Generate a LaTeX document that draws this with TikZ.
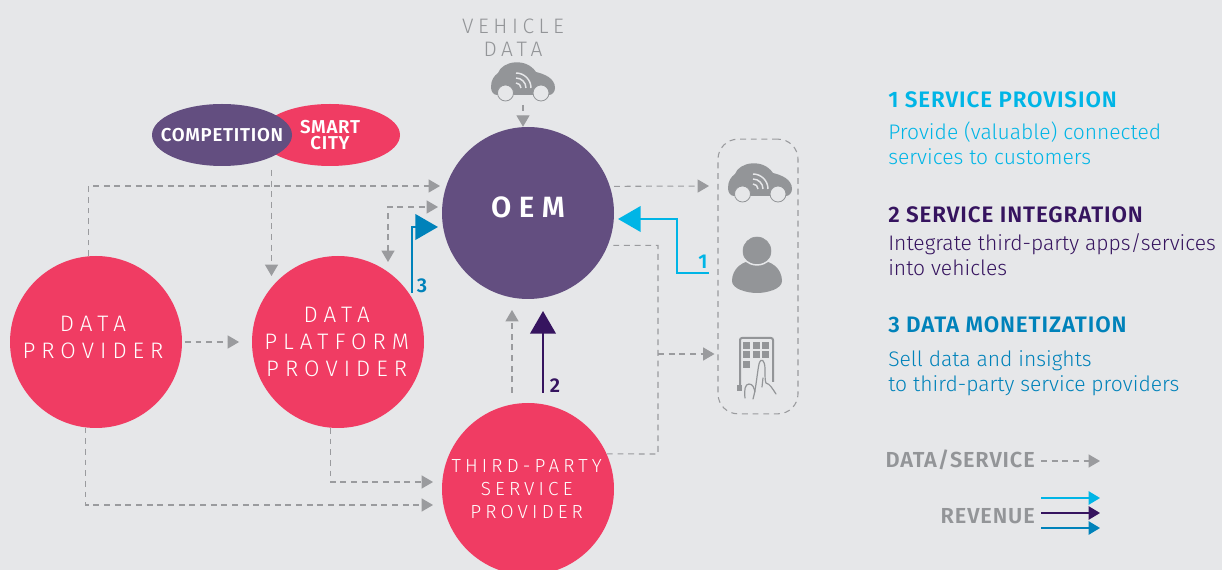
\documentclass[tikz,border=0pt]{standalone}
\usepackage{fontspec}
\setmainfont{Fira Sans}
\newfontfamily\spacedfont[LetterSpace=22]{Fira Sans Light}
\newfontfamily\widefont[LetterSpace=27]{Fira Sans Light}
\newfontfamily\heavyfont[LetterSpace=26]{Fira Sans SemiBold}
\newfontfamily\bodyfont{Fira Sans Light}
\newfontfamily\titlefont[LetterSpace=4]{Fira Sans SemiBold}
\usetikzlibrary{arrows.meta,positioning,shapes.geometric}
\definecolor{pagebg}{HTML}{E6E7E9}
\definecolor{rosered}{HTML}{F03C63}
\definecolor{oempurple}{HTML}{634E80}
\definecolor{flowgray}{HTML}{9A9B9E}
\definecolor{textgray}{HTML}{939598}
\definecolor{revcyan}{HTML}{00B5E6}
\definecolor{revplum}{HTML}{36145F}
\definecolor{revblue}{HTML}{0082BA}
\newcommand{\tailkern}{\kern4.5pt}
\tikzset{
 hub/.style={circle,minimum size=129pt,inner sep=0pt,fill=rosered,text=white,align=center},
 hubtext/.style={font=\fontsize{16.8}{20.4}\widefont},
 oval/.style={ellipse,minimum width=105pt,minimum height=46.5pt,inner xsep=-14pt,inner ysep=0pt,text=white,align=center,font=\fontsize{14}{12}\titlefont},
 flowline/.style={flowgray,line width=.8pt,dash pattern=on 4.4pt off 3.6pt},
 flow/.style={flowline,-{Triangle[length=8.5pt,width=9.75pt]}},
 flowboth/.style={flowline,{Triangle[length=8.5pt,width=9.75pt]}-{Triangle[length=8.5pt,width=9.75pt]}},
 rev/.style={line width=2.2pt,-{Triangle[length=17pt,width=19pt]}},
 revkey/.style={line width=1.1pt,-{Triangle[length=8.5pt,width=10pt]}},
 revnum/.style={font=\fontsize{15}{15}\titlefont},
 head/.style={anchor=base west,inner sep=0pt,font=\fontsize{16.8}{18}\titlefont},
 copy/.style={anchor=base west,inner sep=0pt,align=left,font=\fontsize{15.8}{19}\bodyfont},
 keyname/.style={anchor=base east,inner sep=0pt,text=textgray,font=\fontsize{16.3}{18}\titlefont},
 car/.pic={
  \fill[textgray] (-32,5) .. controls (-32,-2) and (-29,-6) .. (-25,-9)
   .. controls (-21,-21) and (3,-25) .. (13,-10)
   .. controls (21,-8) and (32,-4) .. (32,6)
   .. controls (32,10) and (29,13) .. (26,13) -- (-26,13)
   .. controls (-30,13) and (-32,9) .. (-32,5) -- cycle;
  \foreach \wx in {-17.5,18}
   \draw[textgray,fill=pagebg,line width=.6pt] (\wx,11) circle (8);
  \foreach \r in {5,10,15}
   \draw[pagebg,line width=1.1pt] (-7,{6-\r}) .. controls ({-7+.55*\r},{6-\r}) and ({-7+\r},{6-.55*\r}) .. ({-7+\r},6);
 },
 person/.pic={
  \fill[textgray] (-25,9) .. controls (-25,-3) and (-15,-12) .. (0,-12)
   .. controls (15,-12) and (25,-3) .. (25,9)
   .. controls (25,17) and (10,21) .. (0,21)
   .. controls (-10,21) and (-25,17) .. (-25,9) -- cycle;
  \draw[textgray,fill=textgray] (0,-21) circle (14);
  \draw[pagebg,line width=1.1pt] (-13,-13) .. controls (-6,-5) and (6,-5) .. (13,-13);
 },
 keypad/.pic={
  \draw[textgray,line width=1.5pt,rounded corners=1.5pt] (-16,26) -- (-16,-26) -- (17,-26) -- (17,18);
  \foreach \kx in {-13,-3.5,6}
   \foreach \ky in {-22,-12.5}
    \fill[textgray] (\kx,\ky) rectangle ++(7,7);
  \fill[textgray] (-13,-3) rectangle ++(7,7);
  \fill[textgray] (-19,21) rectangle ++(5,6);
  \draw[textgray,line width=.9pt,line cap=round] (-11,34) .. controls (-12,26) and (-11,20) .. (-7,20)
   .. controls (-3,20) and (-2,24) .. (-1,28);
  \draw[textgray,line width=.9pt,line cap=round] (-3,35) .. controls (0,25) and (1,10) .. (3,0)
   .. controls (5,-7) and (9,-4) .. (9,5) .. controls (9,12) and (9,17) .. (10,19)
   .. controls (14,20) and (16,24) .. (20,30);
  \draw[textgray,line width=.9pt,line cap=round] (6,23) -- (7,14);
 },
}
\begin{document}
\begin{tikzpicture}[x=.75pt,y=-.75pt,node distance=181.5pt,on grid]
 \useasboundingbox (0,0) rectangle (1222,570);
 \clip (0,0) rectangle (1222,570);
 \fill[pagebg] (0,0) rectangle (1222,570);

 \node[hub,hubtext,text depth=7.5pt] (dp) at (96,342) {DATA\tailkern\\PROVIDER\tailkern};
 \node[hub,hubtext] (pp)[right=of dp] {DATA\kern2pt\\PLATFORM\kern2pt\\PROVIDER\kern2pt};
 \node[hub,font=\fontsize{14.2}{17}\spacedfont] (tp) at (528,489) {THIRD-PARTY\kern2pt\\SERVICE\kern2pt\\PROVIDER\kern2pt};
 \node[hub,fill=oempurple,font=\fontsize{22}{24}\heavyfont,text depth=9pt] (oem)[above=207pt of tp] {OEM};
 \node[oval,fill=rosered] (city) at (330,135) {SMART\\CITY};
 \node[oval,fill=oempurple] (rival) at (222,135) {COMPETITION};
 \node[text=textgray,align=center,inner sep=0pt,font=\fontsize{15.7}{17.2}\spacedfont] (vdata) at (513,37.5) {VEHICLE\\DATA};
 \node[minimum width=48pt,minimum height=30pt,inner sep=0pt] (vcar) at (523,82) {};
 \pic at (vcar) {car};
 \node[draw=flowgray,line width=.8pt,dash pattern=on 4.4pt off 3.6pt,rounded corners=15pt,minimum width=60pt,minimum height=206pt,inner sep=0pt] (fleet) at (758,276.5) {};
 \node[minimum width=48pt,minimum height=30pt,inner sep=0pt] (fcar) at (760,183) {};
 \pic at (fcar) {car};
 \node[minimum width=38pt,minimum height=42pt,inner sep=0pt] (user) at (757,272) {};
 \pic at (user) {person};
 \node[minimum width=30pt,minimum height=42pt,inner sep=0pt] (pad) at (756,364) {};
 \pic at (pad) {keypad};

 \coordinate (oem_a) at (440,186);
 \coordinate (oem_b) at (438,207);
 \coordinate (oem_c) at (438,227);
 \coordinate (oem_d) at (618,219);
 \coordinate (oem_e) at (543,311);
 \coordinate (oem_f) at (512,310);
 \coordinate (pp_a) at (271.5,276);
 \coordinate (pp_b) at (388,262);
 \coordinate (pp_c) at (412,293);
 \coordinate (tp_a) at (433,482);
 \coordinate (tp_b) at (433,505);
 \coordinate (tp_c) at (543,393);
 \coordinate (tp_d) at (512,393);
 \coordinate (bus_a) at (658,454);
 \coordinate (bus_b) at (658,354);
 \coordinate (pad_a) at (714.5,354);
 \coordinate (car_a) at (709,186);
 \coordinate (user_a) at (709,273);
 \coordinate (rival_a) at (271.5,170);

 \path[flow]
 (vcar.south) edge [shorten <=2pt] (oem.north -| vcar.south)
 (dp) edge [shorten <=2pt,shorten >=9.5pt] (pp)
 (rival_a) edge (pp_a)
 (oem.18) edge [shorten <=3pt] (car_a)
 (tp_d) edge (oem_f)
 (bus_b) edge (pad_a);
 \draw[flow] (dp.95) |- (oem_a);
 \draw[flowboth] (pp_b) |- (oem_b);
 \draw[flow] (dp.-97) |- (tp_b);
 \draw[flow] (pp.-95) |- (tp_a);
 \draw[flowline] (oem.-22.6) [shorten <=4pt] -| (bus_a) -- (tp.24);

 \draw[rev,revcyan] (user_a) -| (677,219) -- (oem_d);
 \draw[rev,revblue] (pp_c) |- (oem_c);
 \draw[rev,revplum] (tp_c) -- (oem_e);
 \node[revnum,text=revcyan] (num_a) at (703,262) {1};
 \node[revnum,text=revplum] (num_b) at (555,386) {2};
 \node[revnum,text=revblue] (num_c) at (422,286) {3};

 \node[head,text=revcyan] (title_a) at (888,108) {1 SERVICE PROVISION};
 \node[copy,text=revcyan] (text_a) at (888,164.5) {Provide (valuable) connected\\services to customers};
 \node[head,text=revplum] (title_b) at (888,223) {2 SERVICE INTEGRATION};
 \node[copy,text=revplum] (text_b) at (888,275.5) {Integrate third-party apps/services\\into vehicles};
 \node[head,text=revblue] (title_c) at (888,333) {3 DATA MONETIZATION};
 \node[copy,text=revblue] (text_c) at (888,392) {Sell data and insights\\to third-party service providers};

 \node[keyname] (key_a) at (1035,468) {DATA/SERVICE};
 \node[keyname] (key_b) at (1035,523) {REVENUE};
 \coordinate (key_c) at (1100,461);
 \coordinate (key_d) at (1100,498);
 \coordinate (key_e) at (1100,513);
 \coordinate (key_f) at (1100,528);
 \draw[flow] (1041,461) -- (key_c);
 \draw[revkey,revcyan] (1041,498) -- (key_d);
 \draw[revkey,revplum] (1041,513) -- (key_e);
 \draw[revkey,revblue] (1041,528) -- (key_f);
\end{tikzpicture}
\end{document}
